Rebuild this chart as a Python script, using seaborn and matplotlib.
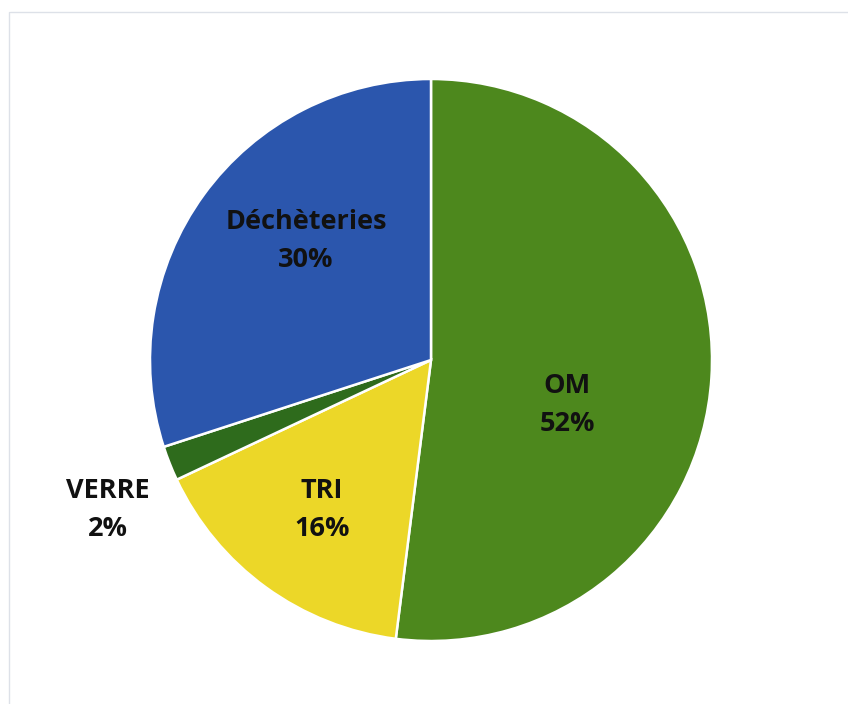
import matplotlib
matplotlib.use("Agg")
import matplotlib.pyplot as plt
import seaborn as sns
from matplotlib.lines import Line2D

categories = ["OM", "TRI", "VERRE", "Déchèteries"]
values = [52, 16, 2, 30]
colors = ["#4d881d", "#ecd728", "#2e6b1c", "#2b56ad"]
label_pos = [(0.484, -0.16), (-0.388, -0.534), (-1.149, -0.534), (-0.445, 0.425)]

sns.set_theme(style="white")
plt.rcParams['font.family'] = ['Open Sans', 'DejaVu Sans']

fig = plt.figure(figsize=(8.48, 7.04), dpi=100)
fig.patch.set_facecolor("white")
ax = fig.add_axes([150 / 848, 63 / 704, 562 / 848, 562 / 704])
ax.pie(values, colors=colors, startangle=90, counterclock=False, radius=1,
       wedgeprops=dict(edgecolor="white", linewidth=1.8))
ax.set_xlim(-1, 1)
ax.set_ylim(-1, 1)
ax.set_aspect("equal")
ax.axis("off")

for cat, v, (x, y) in zip(categories, values, label_pos):
    ax.text(x, y, f"{cat}\n{v}%", ha="center", va="center", fontsize=19.5,
            fontweight="bold", color="#111111", linespacing=1.6)

fig.add_artist(Line2D([10 / 848, 1], [1 - 12 / 704, 1 - 12 / 704],
                      transform=fig.transFigure, color="#dde1e8", lw=1.0))
fig.add_artist(Line2D([9 / 848, 9 / 848], [0, 1 - 12 / 704],
                      transform=fig.transFigure, color="#dde1e8", lw=1.0))

fig.savefig("out.png", dpi=100, facecolor="white")
